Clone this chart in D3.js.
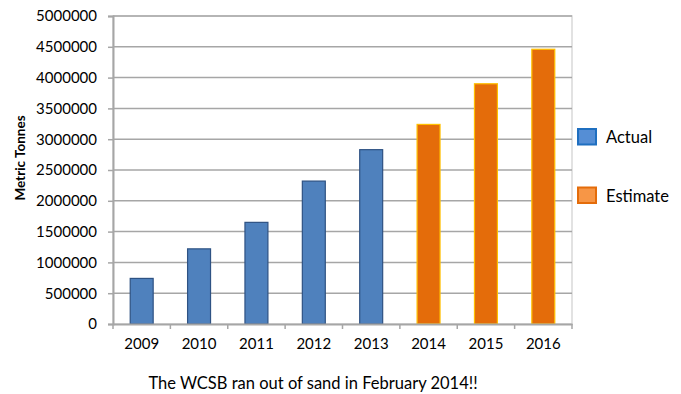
<!DOCTYPE html>
<html><head><meta charset="utf-8">
<script src="https://cdn.jsdelivr.net/npm/d3@7"></script>
<style>
html,body{margin:0;padding:0;background:#fff;}
svg{display:block;font-family:Lato, "Open Sans", sans-serif;}
</style></head>
<body><svg id="c" width="681" height="394"></svg>
<script>
const years = ["2009","2010","2011","2012","2013","2014","2015","2016"];
const values = [740000,1220000,1650000,2320000,2830000,3240000,3900000,4460000];
const seriesOf = ["Actual","Actual","Actual","Actual","Actual","Estimate","Estimate","Estimate"];
const yTicks = [0,500000,1000000,1500000,2000000,2500000,3000000,3500000,4000000,4500000,5000000];
const legendItems = ["Actual","Estimate"];
const yTitle = "Metric Tonnes";
const caption = "The WCSB ran out of sand in February 2014!!";

const fillC = {Actual:"#4F81BD", Estimate:"#E46C0A"};
const strokeC = {Actual:"#2E5283", Estimate:"#FFC000"};
const legFill = {Actual:"#558ED5", Estimate:"#F79646"};
const legStroke = {Actual:"#1F6FC0", Estimate:"#E46C0A"};

const svg = d3.select("#c");
const L=113, R=572, T=16, B=324;
const x = d3.scaleBand().domain(years).range([L,R]).paddingInner(0.6).paddingOuter(0.3);
const xb = d3.scaleBand().domain(years).range([L,R]);
const y = d3.scaleLinear().domain([0,5000000]).range([B,T]);

// plot border
svg.append("rect").attr("x",L).attr("y",T).attr("width",R-L).attr("height",B-T)
  .attr("fill","none").attr("stroke","#D9D9D9").attr("stroke-width",1.5);

// gridlines
svg.append("g").selectAll("line").data(yTicks.filter(d=>d>0)).join("line")
  .attr("x1",L).attr("x2",R).attr("y1",d=>y(d)).attr("y2",d=>y(d))
  .attr("stroke","#A6A6A6").attr("stroke-width",1.5);

// y axis
const ya = svg.append("g").attr("transform",`translate(${L},0)`)
  .call(d3.axisLeft(y).tickValues(yTicks).tickSize(5).tickPadding(11).tickFormat(d3.format("d")));
ya.select(".domain").attr("stroke","#A6A6A6").attr("stroke-width",2);
ya.selectAll(".tick line").attr("stroke","#A6A6A6").attr("stroke-width",1.5);
ya.selectAll("text").attr("font-size","15px").attr("fill","#000").attr("font-family","Lato");

// bars
svg.append("g").selectAll("rect").data(years).join("rect")
  .attr("x",(d)=>x(d)).attr("width",x.bandwidth())
  .attr("y",(d,i)=>y(values[i])).attr("height",(d,i)=>B-y(values[i]))
  .attr("fill",(d,i)=>fillC[seriesOf[i]]).attr("stroke",(d,i)=>strokeC[seriesOf[i]]).attr("stroke-width",1.2);

// x axis
const xa = svg.append("g").attr("transform",`translate(0,${B})`)
  .call(d3.axisBottom(xb).tickSize(0).tickPadding(14));
xa.select(".domain").attr("stroke","#A6A6A6").attr("stroke-width",2);
xa.selectAll("text").attr("font-size","15px").attr("fill","#000").attr("font-family","Lato");
svg.append("g").selectAll("line").data(years.concat(["end"])).join("line")
  .attr("x1",(d,i)=>i<years.length?xb(d):R).attr("x2",(d,i)=>i<years.length?xb(d):R)
  .attr("y1",B).attr("y2",B+5).attr("stroke","#A6A6A6").attr("stroke-width",1.5);

// y title
svg.append("text").attr("transform","translate(25,158) rotate(-90)")
  .attr("text-anchor","middle").attr("font-weight","bold").attr("font-size","13.5px")
  .attr("font-family","Lato").text(yTitle);

// caption
svg.append("text").attr("x",313).attr("y",389).attr("text-anchor","middle")
  .attr("font-size","16.5px").attr("font-family","Lato").text(caption);

// legend
const lg = svg.append("g").selectAll("g").data(legendItems).join("g")
  .attr("transform",(d,i)=>`translate(578,${129+i*58.5})`);
lg.append("rect").attr("width",18).attr("height",15.5)
  .attr("fill",d=>legFill[d]).attr("stroke",d=>legStroke[d]).attr("stroke-width",2);
lg.append("text").attr("x",28).attr("y",14).attr("font-size","16.5px").attr("font-family","Lato").text(d=>d);
</script></body></html>
